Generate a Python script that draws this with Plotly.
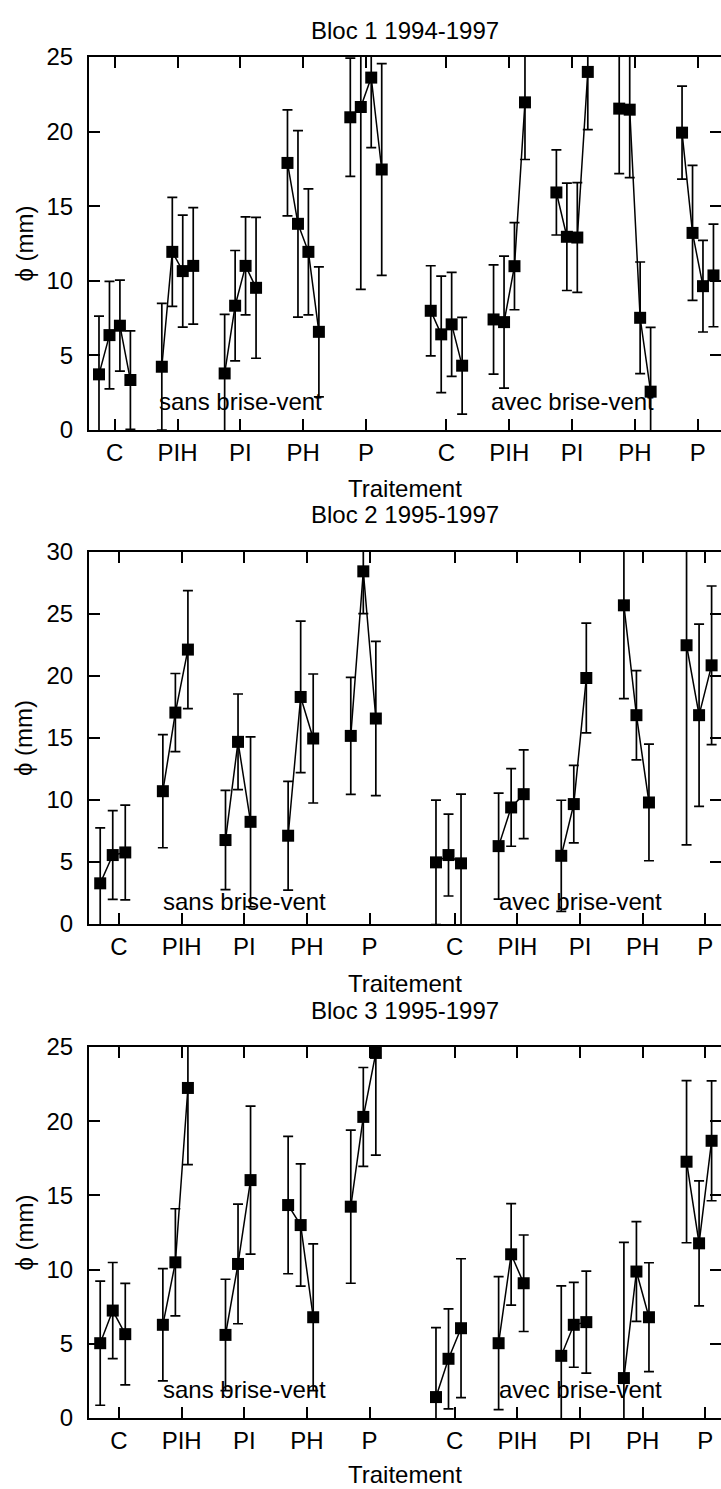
import plotly.graph_objects as go

# ---------------- data ----------------
categories = ["C", "PIH", "PI", "PH", "P"]
conditions = ["sans brise-vent", "avec brise-vent"]
titles = ["Bloc 1 1994-1997", "Bloc 2 1995-1997", "Bloc 3 1995-1997"]
x_title = "Traitement"
y_title = "ϕ (mm)"
y_max = [25, 30, 25]

# Bloc 1 (1994, 1995, 1996, 1997), one row per treatment
b1_sans_mean = [[3.73, 6.36, 6.99, 3.35], [4.24, 11.94, 10.65, 11.0], [3.79, 8.33, 11.0, 9.53],
                [17.9, 13.82, 11.94, 6.58], [20.96, 21.65, 23.62, 17.46]]
b1_sans_err = [[3.9, 3.6, 3.05, 3.3], [4.25, 3.65, 3.75, 3.9], [3.96, 3.7, 3.28, 4.72],
               [3.55, 6.25, 4.22, 4.36], [3.96, 12.23, 4.69, 7.1]]
b1_avec_mean = [[7.99, 6.41, 7.08, 4.31], [7.41, 7.23, 10.98, 21.96], [15.92, 12.95, 12.9, 24.0],
                [21.54, 21.47, 7.52, 2.57], [19.93, 13.21, 9.64, 10.36]]
b1_avec_err = [[3.02, 3.9, 3.48, 3.24], [3.66, 4.43, 2.92, 3.83], [2.85, 3.6, 3.68, 3.87],
               [4.35, 4.55, 3.74, 4.31], [3.12, 4.52, 3.07, 3.44]]

# Bloc 2 (1995, 1996, 1997)
b2_sans_mean = [[3.28, 5.56, 5.77], [10.71, 17.05, 22.13], [6.77, 14.69, 8.24],
                [7.12, 18.31, 14.96], [15.17, 28.44, 16.57]]
b2_sans_err = [[4.48, 3.58, 3.82], [4.56, 3.15, 4.76], [4.0, 3.86, 6.85],
               [4.39, 6.11, 5.2], [4.72, 3.41, 6.22]]
b2_avec_mean = [[4.97, 5.56, 4.89], [6.28, 9.4, 10.47], [5.5, 9.67, 19.84],
                [25.7, 16.84, 9.8], [22.48, 16.84, 20.86]]
b2_avec_err = [[5.02, 3.3, 5.58], [4.27, 3.13, 3.58], [4.48, 3.12, 4.43],
               [7.52, 3.6, 4.7], [16.1, 7.35, 6.4]]

# Bloc 3 (1995, 1996, 1997)
b3_sans_mean = [[5.04, 7.24, 5.65], [6.28, 10.49, 22.24], [5.6, 10.38, 16.03],
                [14.35, 13.0, 6.79], [14.24, 20.29, 24.6]]
b3_sans_err = [[4.18, 3.24, 3.42], [3.78, 3.61, 5.16], [3.75, 4.03, 4.99],
               [4.63, 4.12, 4.95], [5.16, 3.33, 6.89]]
b3_avec_mean = [[1.41, 3.99, 6.05], [5.04, 11.03, 9.08], [4.19, 6.28, 6.46],
                [2.69, 9.87, 6.79], [17.27, 11.77, 18.68]]
b3_avec_err = [[4.68, 3.37, 4.68], [4.48, 3.42, 3.25], [4.71, 2.86, 3.44],
               [9.15, 3.36, 3.67], [5.46, 4.21, 4.04]]

blocs = [
    (b1_sans_mean, b1_sans_err, b1_avec_mean, b1_avec_err),
    (b2_sans_mean, b2_sans_err, b2_avec_mean, b2_avec_err),
    (b3_sans_mean, b3_sans_err, b3_avec_mean, b3_avec_err),
]

# ---------------- layout parameters ----------------
W, H = 721, 1489
L = 89
panel_px = [(57, 430), (552, 924), (1047, 1418)]     # top, bottom (px)
x_ranges = [(0.591, 10.65), (0.521, 10.61), (0.521, 10.61)]
group2_start = [6.28, 6.36, 6.36]
year_offsets = [[-0.25, -0.083, 0.083, 0.25], [-0.3, -0.1, 0.1], [-0.3, -0.1, 0.1]]
label_y = [1.9, 1.8, 1.95]
title_px = [30, 515, 1010]
xtitle_px = [489, 983, 1474]

FONT = "Liberation Sans, Arial, Helvetica, sans-serif"
fs = 24


def yp(px):
    return 1 - px / H


def xp(px):
    return (px - L) / (W - L)


fig = go.Figure()
layout = dict(
    width=W, height=H,
    margin=dict(l=L, r=0, t=0, b=0),
    paper_bgcolor="white", plot_bgcolor="white",
    showlegend=False,
    font=dict(family=FONT, size=fs, color="black"),
    annotations=[],
)

for i, (sm, se, am, ae) in enumerate(blocs):
    s = "" if i == 0 else str(i + 1)
    xa, ya = "x" + s, "y" + s
    starts = [1.0, group2_start[i]]
    tickvals = [starts[g] + k for g in range(2) for k in range(len(categories))]
    for g, (means, errs) in enumerate([(sm, se), (am, ae)]):
        for k, cat in enumerate(categories):
            xs = [starts[g] + k + o for o in year_offsets[i][:len(means[k])]]
            fig.add_trace(go.Scatter(
                x=xs, y=means[k], xaxis=xa, yaxis=ya,
                mode="lines+markers",
                line=dict(color="black", width=1.5),
                marker=dict(symbol="square", size=12, color="black"),
                error_y=dict(type="data", array=errs[k], visible=True,
                             color="black", thickness=1.7, width=5),
                hoverinfo="skip", cliponaxis=True,
            ))
        layout["annotations"].append(dict(
            x=starts[g] + 2, y=label_y[i], xref=xa, yref=ya,
            text=conditions[g], showarrow=False,
            font=dict(family=FONT, size=fs, color="black"),
            xanchor="center", yanchor="middle"))

    top, bot = panel_px[i]
    layout["xaxis" + s] = dict(
        domain=[0, 1], anchor=ya, range=list(x_ranges[i]),
        tickmode="array", tickvals=tickvals, ticktext=categories * 2,
        ticks="inside", ticklen=11, tickwidth=2, tickcolor="black",
        showline=True, linewidth=2, linecolor="black", mirror="ticks",
        showgrid=False, zeroline=False, automargin=False,
        tickfont=dict(family=FONT, size=fs, color="black"),
    )
    yvals = list(range(0, y_max[i] + 1, 5))
    layout["yaxis" + s] = dict(
        domain=[yp(bot), yp(top)], anchor=xa, range=[0, y_max[i]],
        tickmode="array", tickvals=yvals,
        ticks="inside", ticklen=11, tickwidth=2, tickcolor="black",
        showline=True, linewidth=2, linecolor="black", mirror=False,
        showgrid=False, zeroline=False, automargin=False,
        ticklabelstandoff=9,
        tickfont=dict(family=FONT, size=fs, color="black"),
    )
    ov = "yaxis" + str(4 + i)
    layout[ov] = dict(
        overlaying=ya, side="right", anchor=xa, range=[0, y_max[i]],
        tickmode="array", tickvals=yvals, showticklabels=False,
        ticks="inside", ticklen=11, tickwidth=2, tickcolor="black",
        showline=False, showgrid=False, zeroline=False, automargin=False,
    )
    fig.add_trace(go.Scatter(x=[None], y=[None], xaxis=xa, yaxis="y" + str(4 + i),
                             mode="markers", hoverinfo="skip"))

    # panel title, x title, y title
    layout["annotations"].append(dict(
        x=0.5, y=yp(title_px[i]), xref="paper", yref="paper", text=titles[i],
        showarrow=False, xanchor="center", yanchor="middle",
        font=dict(family=FONT, size=fs, color="black")))
    layout["annotations"].append(dict(
        x=0.5, y=yp(xtitle_px[i]), xref="paper", yref="paper", text=x_title,
        showarrow=False, xanchor="center", yanchor="middle",
        font=dict(family=FONT, size=fs, color="black")))
    layout["annotations"].append(dict(
        x=xp(24), y=yp((top + bot) / 2), xref="paper", yref="paper", text=y_title,
        showarrow=False, xanchor="center", yanchor="middle", textangle=-90,
        font=dict(family=FONT, size=fs, color="black")))

fig.update_layout(**layout)
fig.write_html("out.html")
